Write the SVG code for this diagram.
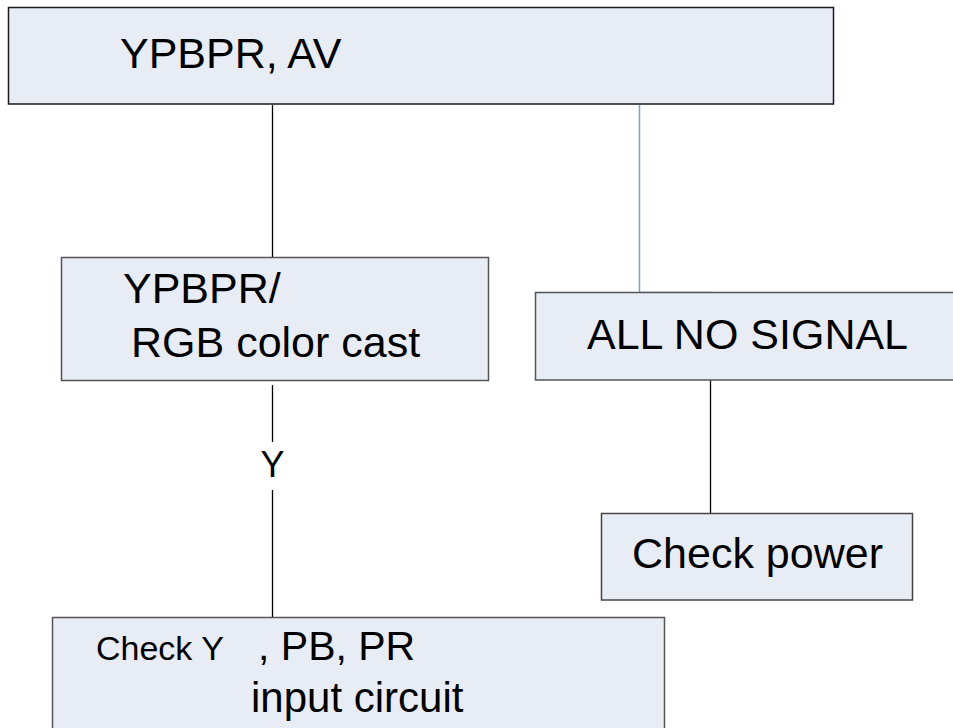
<svg xmlns="http://www.w3.org/2000/svg" width="953" height="728" viewBox="0 0 953 728">
<style>
.box{fill:#e8ecf5;stroke:#333;stroke-width:1.5}
.t{font-family:"Liberation Sans",Arial,sans-serif;fill:#000}
.c{fill:none;stroke:#000;stroke-width:1.3}
.cb{fill:none;stroke:#7f9fd6;stroke-width:1.5}
</style>
<rect width="953" height="728" fill="#fff"/>
<g id="connectors">
<line class="c" x1="272.5" y1="105" x2="272.5" y2="258"/>
<polyline class="cb" points="639.5,105 639.5,292.5 711,292.5"/>
<line class="c" x1="272.5" y1="385" x2="272.5" y2="442"/>
<line class="c" x1="272.5" y1="490" x2="272.5" y2="617"/>
<line class="c" x1="710.5" y1="380" x2="710.5" y2="513"/>
<text class="t" x="272.5" y="477" font-size="36" text-anchor="middle">Y</text>
</g>
<g id="n-top">
<rect class="box" x="8.5" y="7.5" width="825" height="96.5" style="stroke:#1a1a1a"/>
<text class="t" x="120" y="68" font-size="43">YPBPR, AV</text>
</g>
<g id="n-ypbpr">
<rect class="box" x="61.5" y="257.5" width="427" height="123" style="stroke:#555"/>
<text class="t" x="123" y="303" font-size="43">YPBPR/</text>
<text class="t" x="131" y="357" font-size="43">RGB color cast</text>
</g>
<g id="n-nosignal">
<rect class="box" x="535.5" y="292.5" width="420" height="87.5" style="stroke:#555"/>
<text class="t" x="587" y="349" font-size="43">ALL NO SIGNAL</text>
</g>
<g id="n-power">
<rect class="box" x="601.5" y="513.5" width="311" height="86.5" style="stroke:#444"/>
<text class="t" x="632" y="568" font-size="43">Check power</text>
</g>
<g id="n-check">
<rect class="box" x="52.5" y="617.5" width="612" height="120" style="stroke:#555"/>
<text class="t" x="96" y="660" font-size="34">Check Y</text>
<text class="t" x="258" y="660" font-size="41">, PB, PR</text>
<text class="t" x="251" y="712" font-size="42">input circuit</text>
</g>
</svg>
